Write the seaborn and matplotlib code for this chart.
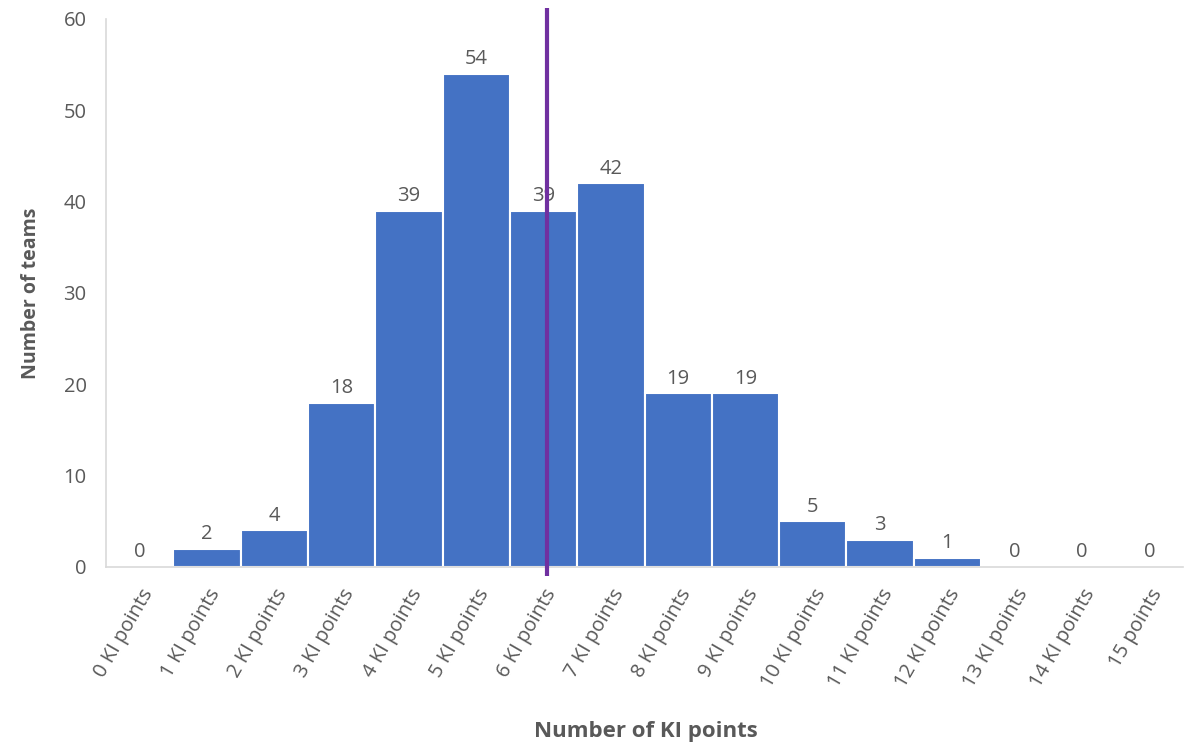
import pandas as pd
import seaborn as sns
import matplotlib.pyplot as plt

# dados
categorias = ['0 KI points', '1 KI points', '2 KI points', '3 KI points', '4 KI points',
              '5 KI points', '6 KI points', '7 KI points', '8 KI points', '9 KI points',
              '10 KI points', '11 KI points', '12 KI points', '13 KI points',
              '14 KI points', '15 points']
equipes = [0, 2, 4, 18, 39, 54, 39, 42, 19, 19, 5, 3, 1, 0, 0, 0]
linha_media = 6.05

df = pd.DataFrame({'categoria': categorias, 'equipes': equipes})

sns.set_theme(style='white')
plt.rcParams['font.family'] = ['Open Sans', 'DejaVu Sans']

cinza = '#595959'

fig = plt.figure(figsize=(12.01, 7.48), dpi=100)
ax = fig.add_axes([0.0883, 0.242, 0.8967, 0.7326])

sns.barplot(data=df, x='categoria', y='equipes', order=categorias, color='#4472C4',
            width=1.0, edgecolor='white', linewidth=1.5, saturation=1, ax=ax)

# rotulos acima das barras
for i, v in enumerate(equipes):
    ax.text(i, v + 0.5, str(v), ha='center', va='bottom', fontsize=14.5, color=cinza)

# linha vertical roxa
ax.vlines(linha_media, -1.0, 61.2, color='#7030A0', linewidth=3, clip_on=False, zorder=5)

ax.set_xlim(-0.5, len(categorias) - 0.5)
ax.set_ylim(0, 60)
ax.set_yticks(range(0, 61, 10))
ax.tick_params(axis='y', labelsize=14.5, labelcolor=cinza, length=0, pad=14)
ax.tick_params(axis='x', labelsize=14.5, labelcolor=cinza, length=0, pad=13)
for lbl in ax.get_xticklabels():
    lbl.set_rotation(60)
    lbl.set_ha('right')
    lbl.set_rotation_mode('anchor')

sns.despine(ax=ax, top=True, right=True)
ax.spines['left'].set_color('#d9d9d9')
ax.spines['bottom'].set_color('#d9d9d9')
ax.spines['left'].set_linewidth(1.2)
ax.spines['bottom'].set_linewidth(1.2)

ax.set_ylabel('Number of teams', fontsize=14, fontweight='bold', color=cinza, labelpad=16)
ax.set_xlabel('')
fig.text(0.538, 0.008, 'Number of KI points', ha='center', va='bottom', fontsize=16,
         fontweight='bold', color=cinza)

plt.savefig('out.png', dpi=100)
